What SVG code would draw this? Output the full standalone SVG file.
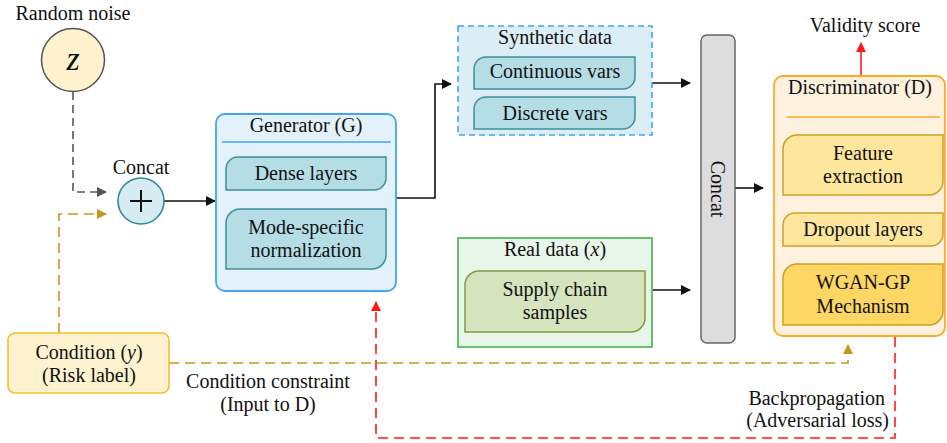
<svg xmlns="http://www.w3.org/2000/svg" width="947" height="443" viewBox="0 0 947 443">
<style>
text{font-family:"Liberation Serif","Times New Roman",serif;font-size:20px;fill:#111;text-anchor:middle}
.c{fill:none;stroke-width:1.6}
.blk{stroke:#111}
.gray{stroke:#555;stroke-dasharray:8,5}
.gold{stroke:#c8961e;stroke-dasharray:10,6}
.red{stroke:#ff1a1a;stroke-dasharray:10,6}
.teal{fill:#b5dde6;stroke:#3e8e9c;stroke-width:1.5}
.olive{fill:#d6e4be;stroke:#7f9c3f;stroke-width:1.5}
.amber{fill:#fee69c;stroke:#c9a227;stroke-width:1.5}
.amber2{fill:#fdd663;stroke:#c9a227;stroke-width:1.5}
</style>
<defs>
<marker id="ab" viewBox="0 0 10 10" refX="9" refY="5" markerWidth="10" markerHeight="10" markerUnits="userSpaceOnUse" orient="auto"><path d="M0,0L10,5L0,10z" fill="#111"/></marker>
<marker id="ag" viewBox="0 0 10 10" refX="9" refY="5" markerWidth="10" markerHeight="10" markerUnits="userSpaceOnUse" orient="auto"><path d="M0,0L10,5L0,10z" fill="#555"/></marker>
<marker id="ay" viewBox="0 0 10 10" refX="9" refY="5" markerWidth="10" markerHeight="10" markerUnits="userSpaceOnUse" orient="auto"><path d="M0,0L10,5L0,10z" fill="#c8961e"/></marker>
<marker id="ar" viewBox="0 0 10 10" refX="9" refY="5" markerWidth="10" markerHeight="10" markerUnits="userSpaceOnUse" orient="auto"><path d="M0,0L10,5L0,10z" fill="#ff1a1a"/></marker>
</defs>

<g id="connectors">
<path class="c gray" d="M73,92V192H106" marker-end="url(#ag)"/>
<path class="c gold" d="M59,333V214H106" marker-end="url(#ay)"/>
<path class="c blk" d="M164,201H215" marker-end="url(#ab)"/>
<path class="c blk" d="M396,198H435V84H451" marker-end="url(#ab)"/>
<path class="c blk" d="M652,83H690" marker-end="url(#ab)"/>
<path class="c blk" d="M652,290H690" marker-end="url(#ab)"/>
<path class="c blk" d="M735,188H763" marker-end="url(#ab)"/>
<path class="c" stroke="#ff1a1a" d="M861,76V43" marker-end="url(#ar)"/>
<path class="c gold" d="M169,363H848V345" marker-end="url(#ay)"/>
<path class="c red" d="M895,337V438H376V302" marker-end="url(#ar)"/>
</g>

<g id="noise">
<text x="73" y="20">Random noise</text>
<circle cx="73" cy="60" r="31.5" fill="#fff2cc" stroke="#555" stroke-width="1.5"/>
<text x="73" y="70" style="font-style:italic;font-size:34px">z</text>
</g>

<g id="concat-op">
<text x="141" y="174">Concat</text>
<circle cx="141" cy="201" r="23" fill="#d7ebf2" stroke="#2e8b9b" stroke-width="1.6"/>
<path d="M130,201H152M141,190V212" stroke="#111" stroke-width="2"/>
</g>

<g id="generator">
<rect x="216" y="114" width="180" height="177" rx="9" fill="#e3f1fb" stroke="#42a5f5" stroke-width="1.8"/>
<text x="306" y="132">Generator (G)</text>
<line x1="222" y1="142" x2="391" y2="142" stroke="#42a5f5" stroke-width="1.5"/>
<path class="teal" d="M238,157H386V178A12,12 0 0 1 374,190H226V169A12,12 0 0 1 238,157Z"/>
<text x="306" y="180">Dense layers</text>
<path class="teal" d="M240,209H386V255A14,14 0 0 1 372,269H226V223A14,14 0 0 1 240,209Z"/>
<text x="306" y="234">Mode-specific</text>
<text x="306" y="257">normalization</text>
</g>

<g id="synthetic">
<rect x="458" y="26" width="194" height="109" fill="#dbeef5" stroke="#42a5f5" stroke-width="1.6" stroke-dasharray="6,4"/>
<text x="555" y="44">Synthetic data</text>
<path class="teal" d="M486,57H635V77A12,12 0 0 1 623,89H474V69A12,12 0 0 1 486,57Z"/>
<text x="555" y="78">Continuous vars</text>
<path class="teal" d="M486,97H635V117A12,12 0 0 1 623,129H474V109A12,12 0 0 1 486,97Z"/>
<text x="555" y="120">Discrete vars</text>
</g>

<g id="real">
<rect x="458" y="238" width="194" height="109" fill="#e8f5e9" stroke="#5cb85c" stroke-width="1.8"/>
<text x="555" y="256">Real data (<tspan style="font-style:italic">x</tspan>)</text>
<path class="olive" d="M479,271H645V318A14,14 0 0 1 631,332H465V285A14,14 0 0 1 479,271Z"/>
<text x="555" y="296">Supply chain</text>
<text x="555" y="319">samples</text>
</g>

<g id="concat-bar">
<rect x="701" y="35" width="34" height="308" rx="6" fill="#dddddd" stroke="#666" stroke-width="1.5"/>
<text transform="translate(718,189) rotate(90)" x="0" y="7">Concat</text>
</g>

<g id="discriminator">
<text x="865" y="32">Validity score</text>
<rect x="774" y="76" width="171" height="260" rx="9" fill="#fef1de" stroke="#ffa726" stroke-width="1.8"/>
<text x="860" y="94">Discriminator (D)</text>
<line x1="787" y1="117" x2="940" y2="117" stroke="#ffa726" stroke-width="1.5"/>
<path class="amber" d="M797,135H943V181A14,14 0 0 1 929,195H783V149A14,14 0 0 1 797,135Z"/>
<text x="863" y="160">Feature</text>
<text x="863" y="183">extraction</text>
<path class="amber" d="M795,213H943V234A12,12 0 0 1 931,246H783V225A12,12 0 0 1 795,213Z"/>
<text x="863" y="236">Dropout layers</text>
<path class="amber2" d="M797,264H943V311A14,14 0 0 1 929,325H783V278A14,14 0 0 1 797,264Z"/>
<text x="863" y="289">WGAN-GP</text>
<text x="863" y="313">Mechanism</text>
</g>

<g id="condition">
<rect x="8" y="333" width="161" height="60" rx="7" fill="#fff3cf" stroke="#f6bd2f" stroke-width="1.6"/>
<text x="89" y="359">Condition (<tspan style="font-style:italic">y</tspan>)</text>
<text x="89" y="382">(Risk label)</text>
</g>

<g id="labels">
<text x="268" y="388">Condition constraint</text>
<text x="268" y="411">(Input to D)</text>
<text x="885" y="405" style="text-anchor:end">Backpropagation</text>
<text x="889" y="427" style="text-anchor:end">(Adversarial loss)</text>
</g>
</svg>
